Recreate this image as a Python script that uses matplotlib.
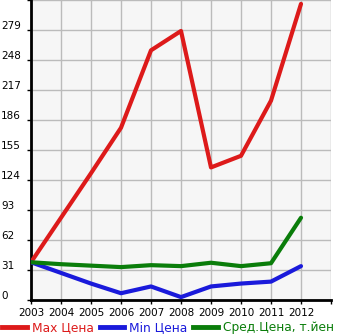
import numpy as np
import matplotlib.pyplot as plt
from matplotlib.lines import Line2D

years = [2003, 2004, 2005, 2006, 2007, 2008, 2009, 2010, 2011, 2012]
max_price = [39, 85, 131, 178, 258, 278, 137, 149, 206, 306]
min_price = [39, 28, 17, 7, 14, 3, 14, 17, 19, 35]
avg_price = [39, 37, 35.5, 34, 36, 35, 38.5, 35, 38, 85]
y_ticks = [0, 31, 62, 93, 124, 155, 186, 217, 248, 279]

red, blue, green = '#dd1a1a', '#1a1adb', '#0a7d0a'

fig = plt.figure(figsize=(3.45, 3.35), dpi=100)
ax = fig.add_axes([31 / 345, 35 / 335, 300 / 345, 300 / 335])
ax.set_facecolor('#f6f6f6')

ax.plot(years, max_price, color=red, lw=3, solid_capstyle='round', zorder=3)
ax.plot(years, min_price, color=blue, lw=3, solid_capstyle='round', zorder=3)
ax.plot(years, avg_price, color=green, lw=3, solid_capstyle='round', zorder=3)

ax.set_xlim(2003, 2013)
ax.set_ylim(0, 310)
ax.set_xticks(range(2003, 2014))
ax.set_xticklabels([str(y) for y in years] + [''])
ax.set_yticks(y_ticks + [310])
ax.set_yticklabels([])
for v in y_ticks:
    ax.text(-0.1, v - 1, str(v), transform=ax.get_yaxis_transform(),
            ha='left', va='bottom', fontsize=7.5, color='black')

ax.grid(True, color='#bbbbbb', lw=1)
ax.set_axisbelow(True)
for s in ['top', 'right']:
    ax.spines[s].set_visible(False)
ax.spines['left'].set_linewidth(2)
ax.spines['bottom'].set_linewidth(2)
ax.tick_params(axis='x', length=3, width=1, labelsize=7.5, pad=3)
ax.tick_params(axis='y', length=3, width=1)

handles = [Line2D([], [], color=c, lw=3.5) for c in (red, blue, green)]
labels = ['Max Цена', 'Min Цена', 'Сред.Цена, т.йен']
leg = fig.legend(handles, labels, loc='lower left', bbox_to_anchor=(-0.025, -0.03),
                 ncol=3, frameon=False, fontsize=8.8, handlelength=2.0,
                 handletextpad=0.4, columnspacing=0.5)
for t, c in zip(leg.get_texts(), (red, blue, green)):
    t.set_color(c)

fig.savefig('out.png', dpi=100)
